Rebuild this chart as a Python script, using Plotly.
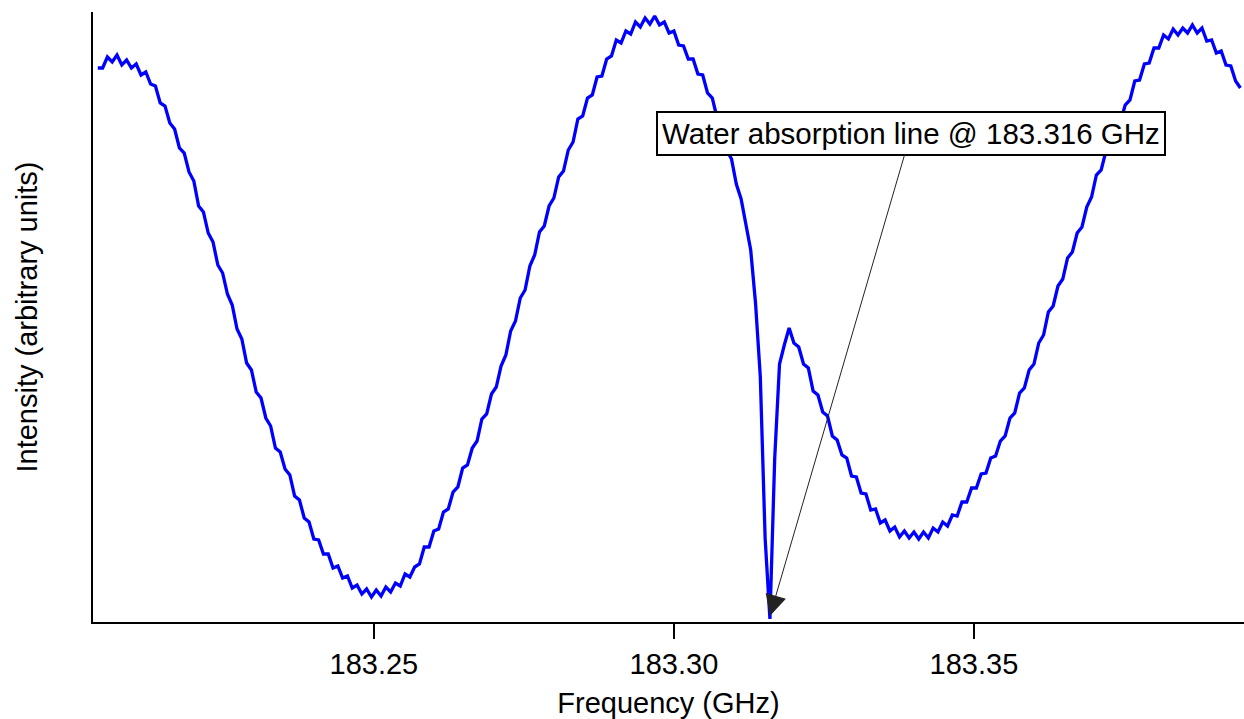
import numpy as np
import plotly.graph_objects as go

# Frequency sampling grid (GHz)
FREQ_START = 183.2040
FREQ_STEP = 0.0008
N_POINTS = 239

# Intensity (arbitrary units) at each grid point
intensity = [
    554, 554, 565, 560, 567, 557, 562, 554, 558, 547,
    550, 538, 536, 519, 516, 499, 493, 474, 469, 450,
    441, 416, 410, 389, 380, 357, 349, 328, 317, 293,
    283, 259, 252, 230, 224, 204, 196, 174, 170, 153,
    147, 126, 122, 104, 100, 83, 82, 68, 68, 54,
    56, 44, 46, 34, 37, 28, 33, 25, 32, 26,
    35, 30, 39, 36, 48, 45, 55, 58, 75, 75,
    91, 93, 110, 113, 130, 135, 154, 157, 174, 181,
    203, 208, 228, 235, 256, 267, 291, 301, 324, 332,
    356, 367, 390, 396, 416, 424, 445, 451, 472, 480,
    503, 506, 524, 527, 545, 546, 563, 566, 582, 579,
    591, 588, 600, 595, 604, 598, 606, 597, 600, 589,
    591, 577, 576, 563, 563, 548, 547, 529, 524, 504,
    496, 472, 463, 438, 423, 396, 372, 319, 245, 84,
    3, 164, 258, 277, 294, 279, 275, 258, 254, 231,
    227, 210, 206, 186, 182, 167, 164, 146, 145, 129,
    128, 112, 113, 99, 102, 91, 95, 85, 91, 84,
    90, 83, 90, 84, 94, 90, 100, 96, 107, 106,
    120, 120, 134, 134, 148, 149, 164, 166, 181, 186,
    204, 209, 229, 234, 252, 258, 279, 287, 310, 316,
    336, 343, 364, 370, 389, 395, 415, 425, 447, 452,
    471, 477, 496, 500, 517, 522, 541, 542, 558, 559,
    574, 574, 587, 583, 593, 587, 594, 589, 597, 589,
    594, 581, 582, 569, 571, 557, 556, 541, 534,
]

freq = np.round(FREQ_START + FREQ_STEP * np.arange(N_POINTS), 4)

tick_vals = [183.25, 183.30, 183.35]
tick_text = ["183.25", "183.30", "183.35"]

line_freq = 183.316
label = "Water absorption line @ 183.316 GHz"

FONT = "Liberation Sans, Arial, sans-serif"
FS = 29

fig = go.Figure()
fig.add_trace(go.Scatter(
    x=freq, y=intensity, mode="lines",
    line=dict(color="#0000FF", width=3.3),
    showlegend=False, hoverinfo="x+y",
))

fig.add_annotation(
    x=line_freq, y=6, xref="x", yref="y",
    text=label, showarrow=True,
    ax=141, ay=-483,
    arrowhead=2, arrowsize=4.2, arrowwidth=1, arrowcolor="#222222",
    standoff=0,
    font=dict(family=FONT, size=29.5, color="black"),
    bgcolor="white", bordercolor="black", borderwidth=2, borderpad=4,
)

fig.update_layout(
    width=1244, height=719,
    margin=dict(l=93, r=0, t=12, b=97),
    paper_bgcolor="white", plot_bgcolor="white",
    font=dict(family=FONT, size=FS, color="black"),
    xaxis=dict(
        range=[183.2032, 183.395],
        tickvals=tick_vals, ticktext=tick_text,
        ticks="outside", ticklen=15, tickwidth=2, tickcolor="black",
        showline=True, linecolor="black", linewidth=2,
        showgrid=False, zeroline=False,
        tickfont=dict(family=FONT, size=FS, color="black"),
        title=dict(text="Frequency (GHz)", standoff=14,
                   font=dict(family=FONT, size=FS, color="black")),
    ),
    yaxis=dict(
        range=[0, 610],
        showticklabels=False, ticks="",
        showline=True, linecolor="black", linewidth=2,
        showgrid=False, zeroline=False,
        title=dict(text="Intensity (arbitrary units)", standoff=45,
                   font=dict(family=FONT, size=FS, color="black")),
    ),
)

fig.write_html("out.html", config={"displayModeBar": False},
               post_script="document.body.style.margin='0';")
